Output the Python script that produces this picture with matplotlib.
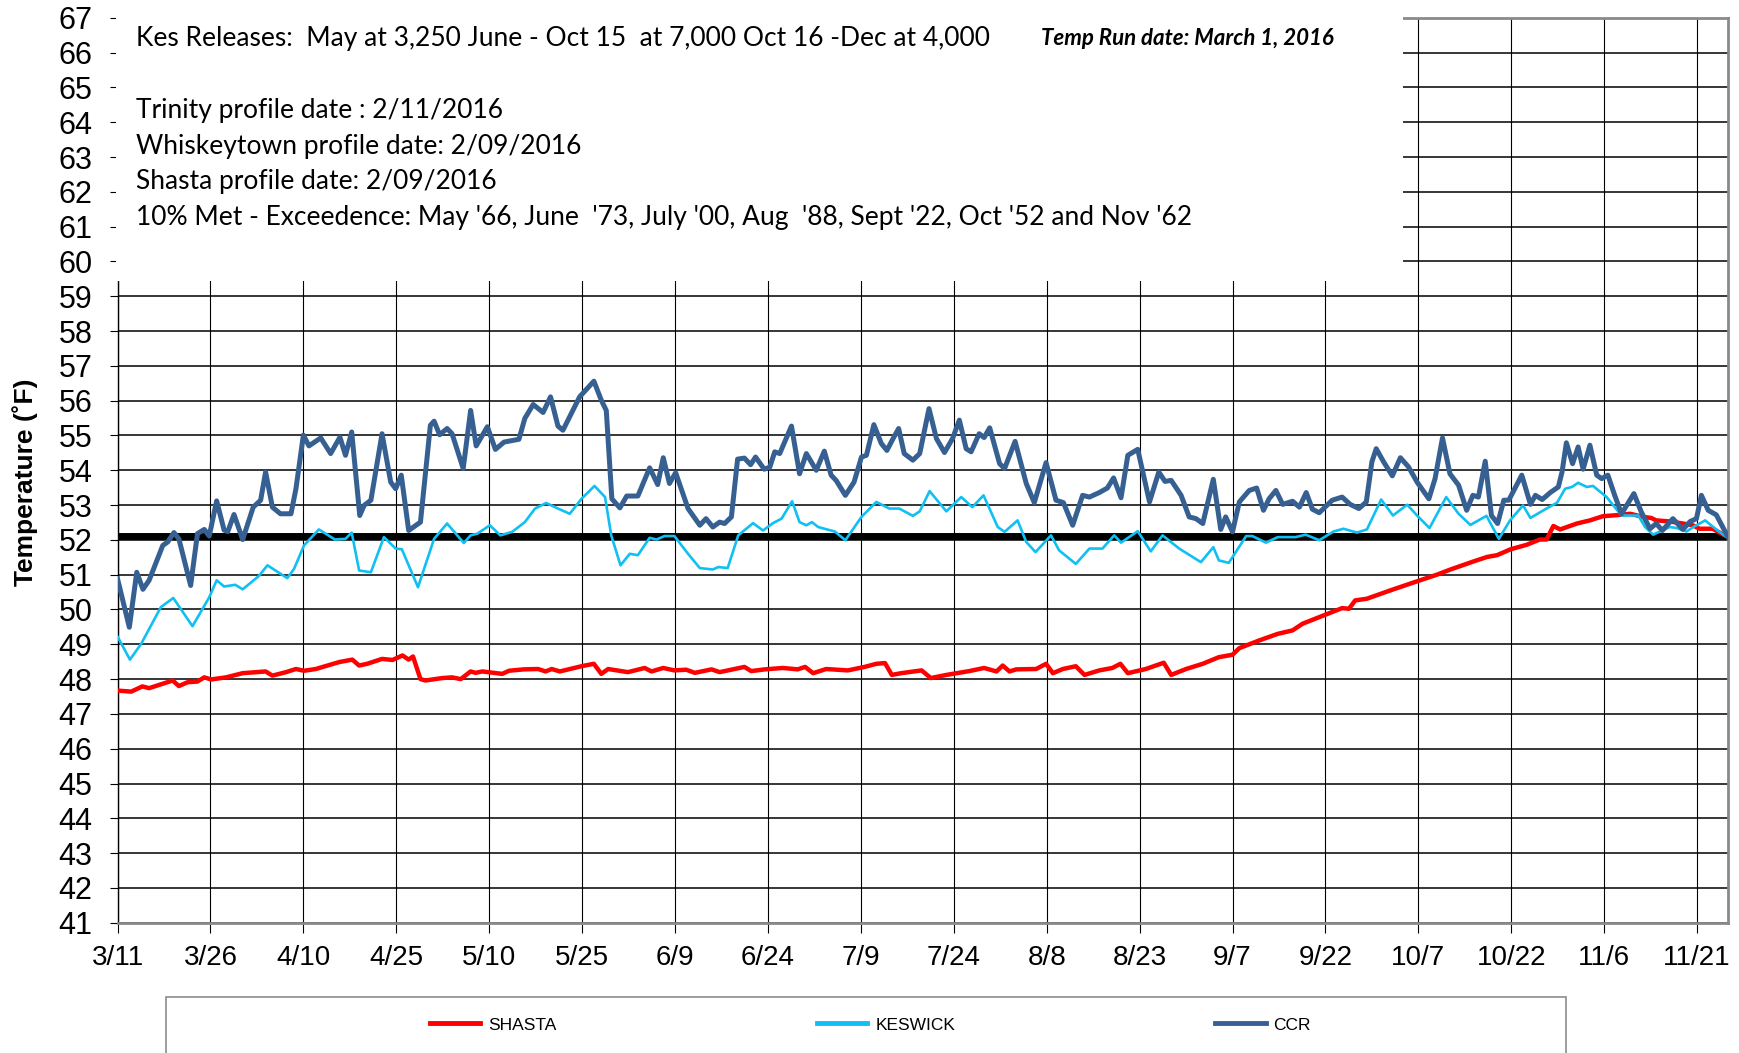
import matplotlib
matplotlib.use('Agg')
import matplotlib.pyplot as plt
from matplotlib.patches import Rectangle

# days counted from 3/11/2016
tick_days = [0, 15, 30, 45, 60, 75, 90, 105, 120, 135, 150, 165, 180, 195, 210, 225, 240, 255]
tick_labels = ['3/11', '3/26', '4/10', '4/25', '5/10', '5/25', '6/9', '6/24', '7/9', '7/24',
               '8/8', '8/23', '9/7', '9/22', '10/7', '10/22', '11/6', '11/21']

target_temp = 52.1

shasta_day = [0, 2.2, 4.0, 5.1, 8.9, 9.9, 11.3, 12.9, 14.0, 15.1, 17.5, 20.2, 23.9, 25.0, 27.2,
              28.8, 30.1, 32.0, 35.8, 37.9, 39.0, 40.3, 42.7, 44.4, 46.0, 47.0, 47.7, 48.9, 49.7,
              52.4, 54.0, 55.4, 57.0, 57.8, 58.9, 62.1, 63.2, 65.6, 67.9, 69.1, 70.1, 71.4, 74.9,
              76.9, 78.1, 79.2, 82.4, 85.1, 86.2, 88.1, 89.9, 91.8, 93.2, 95.9, 97.2, 101.2, 102.3,
              104.5, 107.4, 109.8, 111.0, 112.3, 114.4, 117.9, 120.6, 122.5, 123.9, 125.0, 126.5,
              129.8, 131.3, 133.8, 137.5, 139.9, 141.9, 142.9, 144.0, 145.1, 148.3, 149.9, 151.0,
              152.6, 154.7, 156.1, 158.5, 160.6, 161.9, 163.1, 166.0, 168.9, 170.1, 172.5, 175.2,
              177.8, 180.0, 181.1, 184.3, 187.3, 189.7, 191.3, 194.7, 197.7, 198.8, 199.8, 201.7,
              205.5, 209.8, 213.0, 215.2, 218.9, 221.1, 222.7, 224.9, 227.5, 229.6, 230.7, 231.8,
              232.9, 235.6, 237.7, 239.8, 242.0, 244.2, 246.3, 247.6, 248.4, 250.6, 252.7, 254.3,
              255.4, 257.5, 260.0]
shasta_temp = [47.67, 47.64, 47.79, 47.74, 47.96, 47.80, 47.91, 47.93, 48.05, 47.99, 48.05, 48.17,
               48.22, 48.10, 48.20, 48.29, 48.24, 48.29, 48.49, 48.56, 48.39, 48.44, 48.58, 48.55,
               48.68, 48.56, 48.65, 48.00, 47.96, 48.03, 48.05, 48.00, 48.22, 48.18, 48.22, 48.15,
               48.24, 48.28, 48.29, 48.22, 48.29, 48.22, 48.37, 48.44, 48.15, 48.29, 48.20, 48.32,
               48.22, 48.32, 48.25, 48.27, 48.18, 48.28, 48.20, 48.35, 48.23, 48.28, 48.32, 48.28,
               48.35, 48.17, 48.29, 48.25, 48.35, 48.44, 48.46, 48.12, 48.17, 48.25, 48.03, 48.12,
               48.23, 48.32, 48.22, 48.39, 48.22, 48.28, 48.29, 48.44, 48.17, 48.29, 48.37, 48.12,
               48.25, 48.32, 48.44, 48.17, 48.29, 48.47, 48.12, 48.29, 48.44, 48.63, 48.70, 48.89,
               49.11, 49.30, 49.40, 49.59, 49.83, 50.04, 50.02, 50.26, 50.31, 50.55, 50.81, 51.00,
               51.15, 51.38, 51.51, 51.56, 51.73, 51.86, 52.01, 52.01, 52.40, 52.30, 52.47, 52.56,
               52.68, 52.71, 52.75, 52.66, 52.63, 52.56, 52.53, 52.47, 52.42, 52.32, 52.32, 52.08]

keswick_day = [0, 2.0, 3.8, 7.0, 9.0, 12.1, 14.8, 16.0, 17.2, 19.0, 20.2, 22.8, 24.2, 27.4, 28.5,
               30.1, 32.5, 35.1, 36.8, 37.8, 39.0, 40.9, 43.0, 44.9, 45.9, 48.5, 51.1, 53.2, 55.9,
               57.0, 58.1, 60.1, 61.8, 63.7, 65.75, 67.4, 69.2, 71.1, 73.0, 74.9, 77.0, 78.7, 79.7,
               81.2, 82.7, 84.0, 85.9, 87.0, 88.3, 89.9, 92.1, 94.0, 96.1, 97.0, 98.5, 100.2, 102.6,
               104.2, 105.8, 107.2, 108.9, 110.1, 111.2, 112.1, 113.1, 115.8, 117.5, 120.1, 122.5,
               124.6, 126.2, 128.4, 129.5, 131.1, 133.8, 136.2, 138.0, 139.8, 142.1, 143.2, 145.3,
               146.7, 148.2, 150.7, 152.0, 154.7, 156.9, 159.0, 160.9, 162.0, 164.7, 166.8, 168.7,
               171.4, 174.9, 176.9, 177.8, 179.4, 182.2, 183.2, 185.4, 187.3, 190.2, 191.8, 194.0,
               196.3, 197.9, 200.1, 201.7, 204.0, 205.9, 208.2, 209.8, 211.8, 214.5, 216.5, 218.4,
               221.0, 223.0, 224.8, 226.9, 228.1, 230.2, 232.4, 233.7, 234.8, 235.8, 237.2, 238.2,
               240.4, 242.8, 245.5, 246.6, 247.9, 250.6, 251.7, 253.3, 254.4, 256.3, 258.1, 260.0]
keswick_temp = [49.22, 48.56, 49.01, 50.07, 50.33, 49.52, 50.35, 50.84, 50.66, 50.71, 50.58, 50.96,
                51.27, 50.90, 51.17, 51.84, 52.30, 52.01, 52.03, 52.21, 51.12, 51.07, 52.08, 51.75,
                51.73, 50.64, 52.03, 52.47, 51.91, 52.13, 52.18, 52.42, 52.13, 52.23, 52.51, 52.90,
                53.06, 52.90, 52.75, 53.18, 53.55, 53.23, 52.13, 51.27, 51.60, 51.56, 52.06, 52.01,
                52.11, 52.11, 51.60, 51.19, 51.15, 51.22, 51.19, 52.13, 52.48, 52.27, 52.48, 52.61,
                53.11, 52.51, 52.42, 52.51, 52.37, 52.24, 51.99, 52.66, 53.09, 52.90, 52.90, 52.69,
                52.82, 53.40, 52.82, 53.23, 52.94, 53.28, 52.37, 52.23, 52.56, 51.94, 51.65, 52.13,
                51.70, 51.31, 51.75, 51.75, 52.13, 51.92, 52.25, 51.67, 52.13, 51.75, 51.36, 51.79,
                51.41, 51.34, 52.11, 52.11, 51.92, 52.08, 52.08, 52.15, 51.99, 52.24, 52.32, 52.21,
                52.30, 53.16, 52.70, 53.01, 52.70, 52.34, 53.23, 52.75, 52.43, 52.69, 52.03, 52.56,
                52.99, 52.63, 52.85, 53.07, 53.47, 53.52, 53.64, 53.52, 53.55, 53.23, 52.70, 52.70,
                52.37, 52.15, 52.37, 52.34, 52.24, 52.37, 52.56, 52.30, 52.05]

ccr_day = [0, 1.9, 3.1, 4.1, 5.1, 7.3, 8.1, 9.1, 9.9, 11.8, 12.9, 14.0, 14.8, 16.0, 17.2, 17.8,
           18.8, 20.2, 21.9, 23.1, 23.9, 25.0, 26.3, 28.0, 28.8, 30.0, 30.9, 32.8, 34.4, 35.9,
           36.8, 37.8, 39.1, 39.8, 40.9, 42.7, 44.1, 44.9, 45.8, 47.0, 48.9, 50.5, 51.1, 52.0,
           53.2, 54.0, 55.8, 57.0, 57.9, 59.7, 61.0, 62.4, 64.8, 65.75, 67.1, 68.7, 69.9, 71.1,
           71.9, 74.6, 76.9, 78.1, 78.9, 79.8, 81.1, 82.2, 84.0, 85.9, 87.2, 88.1, 89.1, 90.1,
           92.1, 94.0, 95.0, 96.1, 97.2, 98.0, 99.1, 100.1, 101.2, 102.2, 103.0, 104.4, 105.3,
           106.1, 106.9, 108.8, 110.1, 111.2, 112.8, 114.1, 115.2, 116.0, 117.5, 118.9, 120.1,
           120.9, 122.1, 123.3, 124.2, 125.2, 126.1, 127.0, 128.4, 129.5, 131.0, 132.2, 133.5,
           134.8, 135.9, 137.0, 137.8, 139.1, 139.9, 140.8, 142.4, 143.2, 144.9, 146.7, 148.0,
           149.9, 151.5, 152.7, 154.2, 155.8, 156.9, 158.5, 159.8, 160.8, 162.0, 163.1, 164.7,
           166.6, 168.1, 169.1, 170.1, 171.7, 173.0, 174.1, 175.2, 176.9, 178.1, 178.9, 180.0,
           181.1, 182.7, 183.9, 185.0, 185.9, 187.0, 188.1, 189.7, 190.8, 191.9, 192.9, 194.0,
           196.1, 197.7, 199.0, 200.4, 201.6, 202.5, 203.2, 204.4, 205.8, 207.1, 208.4, 209.8,
           211.7, 212.7, 213.9, 215.1, 216.5, 217.8, 218.8, 219.7, 220.8, 221.8, 222.8, 223.8,
           224.6, 226.7, 228.1, 228.9, 230.0, 231.3, 232.6, 233.2, 233.9, 234.9, 235.8, 236.6,
           237.7, 238.8, 239.6, 240.6, 241.7, 242.8, 244.8, 246.0, 247.4, 248.4, 249.4, 251.1,
           252.7, 253.9, 254.9, 255.7, 256.8, 258.1, 260.0]
ccr_temp = [50.88, 49.49, 51.07, 50.58, 50.84, 51.84, 51.94, 52.21, 52.03, 50.69, 52.18, 52.30,
            52.11, 53.12, 52.28, 52.24, 52.73, 52.01, 52.94, 53.14, 53.95, 52.94, 52.75, 52.75,
            53.47, 55.01, 54.70, 54.93, 54.48, 54.95, 54.43, 55.10, 52.70, 52.99, 53.14, 55.05,
            53.66, 53.47, 53.86, 52.27, 52.51, 55.29, 55.41, 55.02, 55.20, 55.05, 54.05, 55.72,
            54.70, 55.25, 54.60, 54.81, 54.89, 55.49, 55.89, 55.66, 56.11, 55.27, 55.15, 56.11,
            56.56, 56.01, 55.72, 53.18, 52.92, 53.26, 53.26, 54.07, 53.59, 54.36, 53.62, 53.93,
            52.90, 52.42, 52.61, 52.37, 52.51, 52.47, 52.66, 54.32, 54.35, 54.16, 54.38, 54.03,
            54.09, 54.53, 54.48, 55.27, 53.90, 54.48, 54.00, 54.55, 53.86, 53.71, 53.28, 53.66,
            54.38, 54.43, 55.31, 54.77, 54.57, 54.91, 55.20, 54.48, 54.29, 54.48, 55.77, 54.91,
            54.51, 54.91, 55.44, 54.62, 54.53, 55.05, 54.94, 55.22, 54.19, 54.05, 54.83, 53.62,
            53.07, 54.22, 53.14, 53.07, 52.42, 53.28, 53.23, 53.36, 53.49, 53.78, 53.21, 54.43,
            54.60, 53.09, 53.95, 53.68, 53.71, 53.28, 52.66, 52.61, 52.47, 53.74, 52.30, 52.66,
            52.23, 53.09, 53.42, 53.49, 52.85, 53.18, 53.42, 53.02, 53.11, 52.94, 53.36, 52.88,
            52.78, 53.14, 53.23, 53.02, 52.90, 53.09, 54.24, 54.62, 54.24, 53.84, 54.36, 54.10,
            53.66, 53.18, 53.76, 54.93, 53.90, 53.57, 52.85, 53.28, 53.23, 54.26, 52.70, 52.47,
            53.14, 53.14, 53.86, 53.02, 53.28, 53.16, 53.36, 53.52, 53.95, 54.79, 54.19, 54.67,
            54.03, 54.72, 53.86, 53.76, 53.86, 53.28, 52.75, 53.33, 52.80, 52.32, 52.47, 52.27,
            52.61, 52.30, 52.53, 52.61, 53.28, 52.85, 52.72, 52.08]

notes = [
    "Kes Releases:  May at 3,250 June - Oct 15  at 7,000 Oct 16 -Dec at 4,000",
    "Trinity profile date : 2/11/2016",
    "Whiskeytown profile date: 2/09/2016",
    "Shasta profile date: 2/09/2016",
    "10% Met - Exceedence: May '66, June  '73, July '00, Aug  '88, Sept '22, Oct '52 and Nov '62",
]
note_y = [66.19, 64.11, 63.08, 62.07, 61.04]
run_date = "Temp Run date: March 1, 2016"

plt.rcParams['font.family'] = ['Liberation Sans', 'DejaVu Sans']

fig = plt.figure(figsize=(17.39, 10.53), dpi=100)
ax = fig.add_axes([0.0676, 0.1237, 0.9261, 0.8594])

ax.plot([0, 260], [target_temp, target_temp], color='black', lw=5, zorder=2, solid_capstyle='butt')
l1, = ax.plot(shasta_day, shasta_temp, color='#ff0000', lw=3.2, zorder=3, solid_joinstyle='round')
l2, = ax.plot(keswick_day, keswick_temp, color='#10c0f2', lw=1.9, zorder=3, solid_joinstyle='round')
l3, = ax.plot(ccr_day, ccr_temp, color='#376092', lw=3.6, zorder=3, solid_joinstyle='round')

ax.set_xlim(0, 260)
ax.set_ylim(41, 67)
ax.set_xticks(tick_days)
ax.set_xticklabels(tick_labels, fontsize=20)
ax.set_yticks(range(41, 68))
ax.tick_params(axis='y', labelsize=22, length=6, width=0.8, pad=12)
ax.tick_params(axis='x', length=7, width=0.8, pad=9)

ax.grid(True, axis='y', color='black', lw=1.1)
ax.grid(True, axis='x', color='black', lw=0.8)

for side in ['top', 'right', 'bottom']:
    ax.spines[side].set_color('#8a8a8a')
    ax.spines[side].set_linewidth(2)
ax.spines['left'].set_color('black')
ax.spines['left'].set_linewidth(1)

ax.set_ylabel('Temperature (˚F)', fontsize=19, fontweight='bold')
ax.yaxis.set_label_coords(-0.0497, 0.487)

# white note box over the top-left of the plot
ax.add_patch(Rectangle((-0.2, 59.45), 207.7, 8.1, facecolor='white', edgecolor='none',
                       zorder=4, clip_on=False))
for txt, y in zip(notes, note_y):
    ax.text(3.0, y, txt, family='Lato', fontsize=19, va='baseline', zorder=5)
ax.text(149.1, 66.22, run_date, family='Lato', fontsize=16, fontweight='bold',
        style='italic', va='baseline', zorder=5)

# legend box at the bottom
fig.add_artist(Rectangle((166 / 1739, -0.01), 1400 / 1739, 56 / 1053 + 0.01,
                         transform=fig.transFigure, fill=False, edgecolor='#8c8c8c', lw=1.2))
leg = fig.legend([l1, l2, l3], ['SHASTA', 'KESWICK', 'CCR'], loc='center left',
                 bbox_to_anchor=(0.2473, 0.0266), ncol=3, frameon=False, fontsize=12.5,
                 handlelength=2.9, handletextpad=0.45, columnspacing=15.0,
                 borderpad=0, borderaxespad=0)
for line in leg.get_lines():
    line.set_linewidth(3.5)

fig.savefig('out.png', dpi=100)
